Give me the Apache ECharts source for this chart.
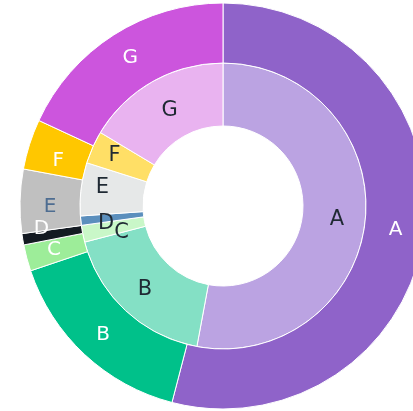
<!DOCTYPE html>
<html>
<head>
<meta charset="utf-8">
<script src="https://cdn.jsdelivr.net/npm/echarts@6/dist/echarts.min.js"></script>
<style>
  html, body { margin: 0; padding: 0; background: #fff; }
  #chart { width: 413px; height: 411px; }
</style>
</head>
<body>
<div id="chart"></div>
<script>
// categories and values (percent shares)
const categories = ['A', 'B', 'C', 'D', 'E', 'F', 'G']
const innerValues = [52.9, 18.0, 1.9, 1.05, 6.0, 3.7, 16.4]
const outerValues = [54.1, 15.8, 2.1, 0.9, 5.1, 4.0, 18.1]

const innerColors = ['#bba3e2', '#84e0c5', '#c9f7c8', '#5b8fbd', '#e6e8e8', '#ffdf66', '#e9b3f0']
const outerColors = ['#8f63c9', '#00c18a', '#9ded99', '#141a22', '#c0c0c0', '#ffc700', '#cc55dd']
const outerLabelColors = ['#fff', '#fff', '#fff', '#fff', '#4e6d91', '#fff', '#fff']

// small nudges so the text sits where the original placed it in the thin slices
const innerLabelNudge = [[0, 3], [0, 0], [11, 4], [-3, 6], [-7, -5], [-4, -3], [3, 4]]
const outerLabelNudge = [[-2, 1], [0, 0], [1, -1], [-8, -6], [3, 5], [3, 8], [2, 0]]

const chart = echarts.init(document.getElementById('chart'))

const option = {
  animation: false,
  series: [
    {
      type: 'pie',
      center: [223, 206],
      radius: [80, 143],
      startAngle: 90,
      clockwise: true,
      avoidLabelOverlap: false,
      minShowLabelAngle: 0,
      labelLayout: { hideOverlap: false },
      label: {
        position: 'inside',
        formatter: '{b}',
        fontSize: 21,
        color: '#1f2933',
        fontFamily: 'DejaVu Sans'
      },
      labelLine: { show: false },
      itemStyle: { borderColor: '#fff', borderWidth: 1 },
      data: categories.map((c, i) => ({
        name: c,
        value: innerValues[i],
        itemStyle: { color: innerColors[i] },
        label: { offset: innerLabelNudge[i] }
      }))
    },
    {
      type: 'pie',
      center: [223, 206],
      radius: [143, 203],
      startAngle: 90,
      clockwise: true,
      avoidLabelOverlap: false,
      minShowLabelAngle: 0,
      labelLayout: { hideOverlap: false },
      label: {
        position: 'inside',
        formatter: '{b}',
        fontSize: 20,
        fontFamily: 'DejaVu Sans'
      },
      labelLine: { show: false },
      itemStyle: { borderColor: '#fff', borderWidth: 1 },
      data: categories.map((c, i) => ({
        name: c,
        value: outerValues[i],
        itemStyle: { color: outerColors[i] },
        label: { color: outerLabelColors[i], offset: outerLabelNudge[i] }
      }))
    }
  ]
}

chart.setOption(option)
</script>
</body>
</html>
